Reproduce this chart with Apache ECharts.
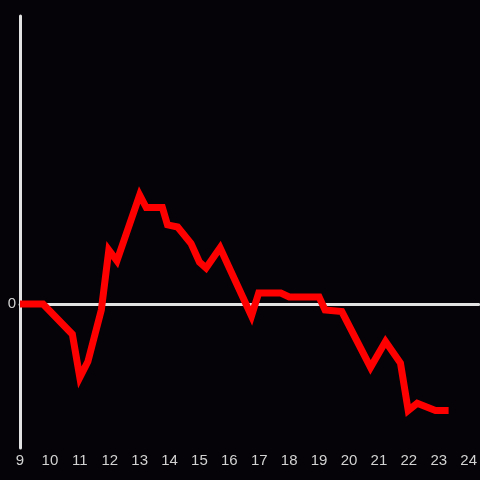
<!DOCTYPE html>
<html>
<head>
<meta charset="utf-8">
<script src="https://cdn.jsdelivr.net/npm/echarts@6/dist/echarts.min.js"></script>
<style>
html,body{margin:0;padding:0;background:#050307;}
#c{width:480px;height:480px;}
</style>
</head>
<body>
<div id="c"></div>
<script>
// hours of day (x) and relative value (y)
var hours = [9, 9.77, 10.75, 11.0, 11.27, 11.72, 11.97, 12.24, 13.0, 13.22, 13.76, 13.93, 14.27, 14.72, 15.0, 15.22, 15.69, 16.0, 16.74, 16.98, 17.72, 18.0, 19.0, 19.2, 19.76, 20.72, 21.22, 21.72, 21.98, 22.28, 22.89, 23.33];
var values = [0, 0, -0.21, -0.51, -0.40, -0.04, 0.375, 0.30, 0.757, 0.67, 0.67, 0.55, 0.535, 0.42, 0.29, 0.25, 0.39, 0.25, -0.083, 0.076, 0.076, 0.049, 0.049, -0.042, -0.053, -0.44, -0.26, -0.41, -0.74, -0.69, -0.74, -0.74];
var xTicks = [9, 10, 11, 12, 13, 14, 15, 16, 17, 18, 19, 20, 21, 22, 23, 24];

var pts = hours.map(function (h, i) { return [h, values[i]]; });

var chart = echarts.init(document.getElementById('c'), null, {renderer: 'canvas'});
var labelColor = '#d2d2d2';
var lineColor = '#e2e2e2';
chart.setOption({
  backgroundColor: '#050307',
  animation: false,
  grid: {left: 20, right: 0, top: 16, bottom: 32, containLabel: false},
  xAxis: [{
    type: 'value',
    min: 9,
    max: 24.3333,
    interval: 1,
    axisLine: {show: false, onZero: false},
    axisTick: {show: false},
    splitLine: {show: false},
    axisLabel: {
      color: labelColor, fontSize: 15, fontFamily: 'Liberation Sans', margin: 5,
      showMaxLabel: false,
      formatter: function (v) { return xTicks.indexOf(v) >= 0 ? String(v) : ''; }
    }
  }, {
    type: 'value',
    min: 9,
    max: 24.3333,
    position: 'bottom',
    axisLine: {show: true, onZero: true, lineStyle: {color: lineColor, width: 3}},
    axisTick: {show: false},
    axisLabel: {show: false},
    splitLine: {show: false}
  }],
  yAxis: {
    type: 'value',
    min: -1,
    max: 2,
    interval: 1,
    z: 3,
    axisLine: {show: true, lineStyle: {color: lineColor, width: 3}},
    axisTick: {show: false},
    splitLine: {show: false},
    axisLabel: {
      color: labelColor, fontSize: 15, fontFamily: 'Liberation Sans', margin: 4,
      formatter: function (v) { return v === 0 ? '0' : ''; }
    }
  },
  series: [{
    type: 'line',
    xAxisIndex: 0,
    data: pts,
    showSymbol: false,
    symbol: 'none',
    smooth: false,
    lineStyle: {color: '#ff0000', width: 7, join: 'miter'}
  }]
});
</script>
</body>
</html>
